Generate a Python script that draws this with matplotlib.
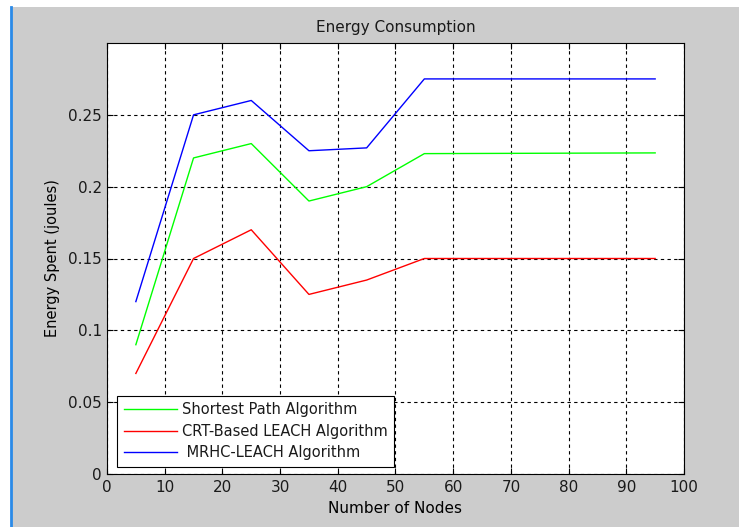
import matplotlib
matplotlib.use("Agg")
import matplotlib.pyplot as plt
from matplotlib.patches import Rectangle
from matplotlib.lines import Line2D

nodes = [5, 15, 25, 35, 45, 55, 95]
shortest_path = [0.09, 0.22, 0.23, 0.19, 0.20, 0.223, 0.2235]
crt_leach = [0.07, 0.15, 0.17, 0.125, 0.135, 0.15, 0.15]
mrhc_leach = [0.12, 0.25, 0.26, 0.225, 0.227, 0.275, 0.275]
labels = ["Shortest Path Algorithm", "CRT-Based LEACH Algorithm", " MRHC-LEACH Algorithm"]
xticks = list(range(0, 101, 10))
yticks = [0, 0.05, 0.1, 0.15, 0.2, 0.25]
ytick_labels = ["0", "0.05", "0.1", "0.15", "0.2", "0.25"]

plt.rcParams['font.family'] = ['DejaVu Sans']
plt.rcParams['text.color'] = '#1a1a1a'
plt.rcParams['xtick.labelcolor'] = '#1a1a1a'
plt.rcParams['ytick.labelcolor'] = '#1a1a1a'
W, H = 739, 527
fig = plt.figure(figsize=(W / 100, H / 100), dpi=100, facecolor='white')

# gray window background with blue left border
fig.patches.append(Rectangle((12 / W, 0), 1 - 12 / W, 1 - 7 / H, transform=fig.transFigure,
                             facecolor='#cccccc', edgecolor='none', zorder=-10))
fig.lines.append(Line2D([11 / W, 11 / W], [0, 1 - 7 / H], transform=fig.transFigure,
                        color='#2a8ae8', lw=2, zorder=-9))

ax = fig.add_axes([107 / W, (H - 474) / H, (684 - 107) / W, (474 - 43) / H])
ax.set_zorder(5)
ax.set_facecolor('white')
ax.plot(nodes, shortest_path, color='#00ff00', lw=1, label=labels[0])
ax.plot(nodes, crt_leach, color='#ff0000', lw=1, label=labels[1])
ax.plot(nodes, mrhc_leach, color='#0000ff', lw=1, label=labels[2])

ax.set_xlim(0, 100)
ax.set_ylim(0, 0.3)
ax.set_xticks(xticks)
ax.set_yticks(yticks)
ax.set_yticklabels(ytick_labels)
ax.tick_params(direction='in', length=4, labelsize=11, top=True, right=True, width=0.8)
ax.tick_params(axis='y', pad=3.6)
ax.tick_params(axis='x', pad=4.5)
ax.grid(True, color='black', linestyle=(0, (3, 3)), lw=0.8)
for s in ax.spines.values():
    s.set_linewidth(0.8)

ax.set_title("Energy Consumption", fontsize=11, pad=8)
ax.set_xlabel("Number of Nodes", fontsize=11, labelpad=4)
ax.set_ylabel("Energy Spent (joules)", fontsize=10.5, labelpad=6)

leg = ax.legend(loc='lower left', bbox_to_anchor=(10 / 577, 7 / 431), borderaxespad=0,
                fontsize=10.5, fancybox=False, edgecolor='black', framealpha=1,
                handlelength=3.63, borderpad=0.45, labelspacing=0.45, handletextpad=0.35)
leg.get_frame().set_linewidth(0.8)

fig.savefig("out.png", dpi=100, facecolor=fig.get_facecolor())
